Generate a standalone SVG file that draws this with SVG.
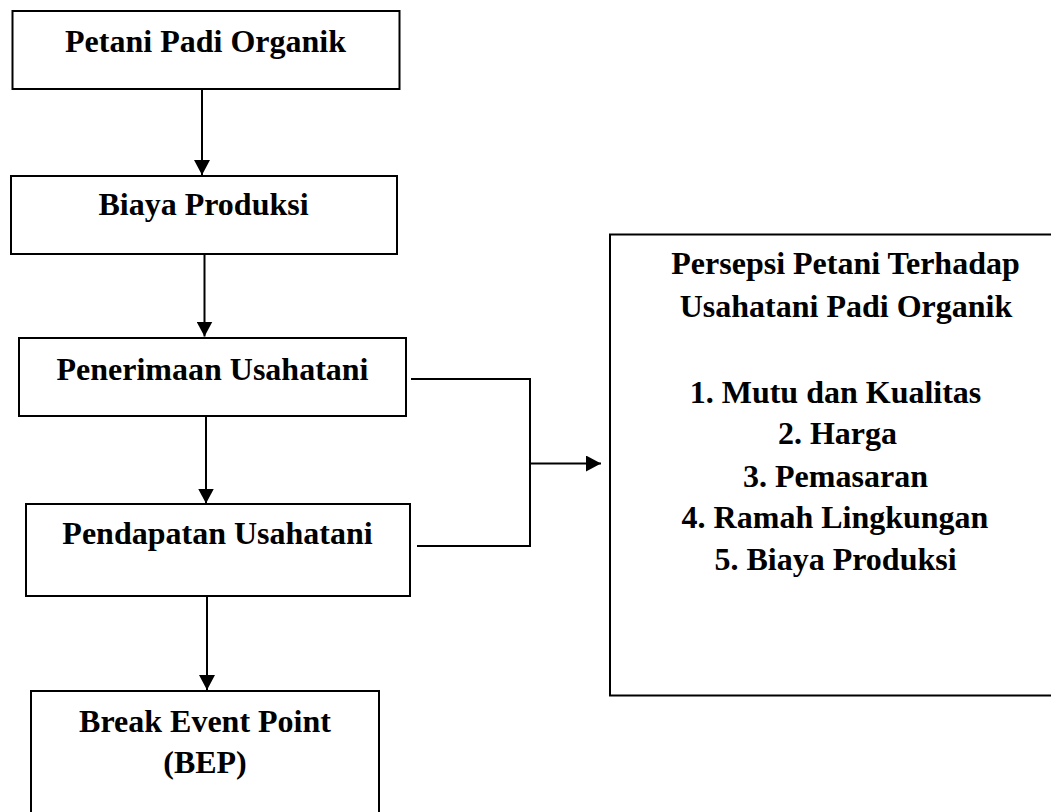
<svg xmlns="http://www.w3.org/2000/svg" width="1051" height="812" viewBox="0 0 1051 812">
  <style>
    .box { fill: #ffffff; stroke: #000000; stroke-width: 2; }
    .lbl { font-family: "Liberation Serif", "Times New Roman", serif; font-weight: bold; font-size: 32px; fill: #000000; text-anchor: middle; }
    .con { fill: none; stroke: #000000; stroke-width: 2; }
  </style>
  <defs>
    <marker id="arr" markerUnits="userSpaceOnUse" markerWidth="16" markerHeight="16" refX="15" refY="8" orient="auto">
      <path d="M0,0 L15,8 L0,16 Z" fill="#000000"/>
    </marker>
  </defs>
  <rect x="0" y="0" width="1051" height="812" fill="#ffffff"/>

  <g id="connectors">
    <line class="con" x1="202" y1="89" x2="202" y2="175" marker-end="url(#arr)"/>
    <line class="con" x1="204.5" y1="254" x2="204.5" y2="336.5" marker-end="url(#arr)"/>
    <line class="con" x1="206" y1="416" x2="206" y2="503.5" marker-end="url(#arr)"/>
    <line class="con" x1="207" y1="596" x2="207" y2="690" marker-end="url(#arr)"/>
    <polyline class="con" points="411,379 530,379 530,546 417,546"/>
    <line class="con" x1="530" y1="463.5" x2="601" y2="463.5" marker-end="url(#arr)"/>
  </g>

  <g id="node-petani">
    <rect class="box" x="12.5" y="11" width="387" height="78"/>
    <text class="lbl" x="205.5" y="52">Petani Padi Organik</text>
  </g>

  <g id="node-biaya">
    <rect class="box" x="11" y="176" width="386" height="78"/>
    <text class="lbl" x="203.5" y="215">Biaya Produksi</text>
  </g>

  <g id="node-penerimaan">
    <rect class="box" x="19" y="338" width="387" height="78"/>
    <text class="lbl" x="212.5" y="380">Penerimaan Usahatani</text>
  </g>

  <g id="node-pendapatan">
    <rect class="box" x="26" y="504" width="384" height="92"/>
    <text class="lbl" x="217.5" y="544">Pendapatan Usahatani</text>
  </g>

  <g id="node-bep">
    <rect class="box" x="31" y="691" width="348" height="140"/>
    <text class="lbl" x="205" y="732">Break Event Point</text>
    <text class="lbl" x="205" y="773">(BEP)</text>
  </g>

  <g id="node-persepsi">
    <rect class="box" x="610" y="234.5" width="470" height="461"/>
    <text class="lbl" x="845.5" y="274">Persepsi Petani Terhadap</text>
    <text class="lbl" x="846" y="316.5">Usahatani Padi Organik</text>
    <text class="lbl" x="835.5" y="402.5">1. Mutu dan Kualitas</text>
    <text class="lbl" x="837.5" y="444">2. Harga</text>
    <text class="lbl" x="835.5" y="486.5">3. Pemasaran</text>
    <text class="lbl" x="835" y="528">4. Ramah Lingkungan</text>
    <text class="lbl" x="835.5" y="570">5. Biaya Produksi</text>
  </g>
</svg>
